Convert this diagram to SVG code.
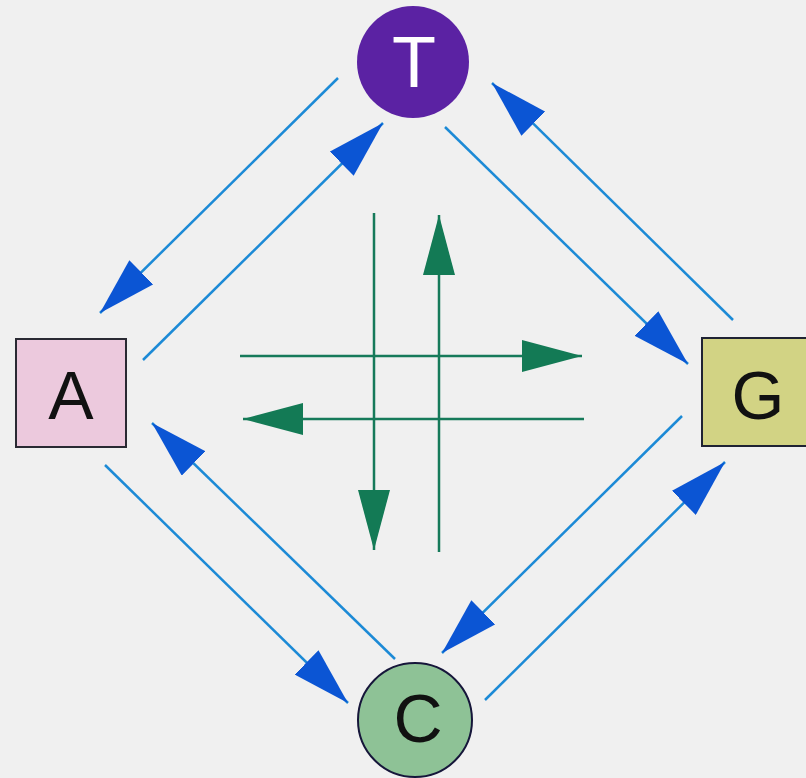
<svg xmlns="http://www.w3.org/2000/svg" width="806" height="778" viewBox="0 0 806 778">
<defs>
<style>
.blue{stroke:#1c8ad6;stroke-width:2.5;fill:none;marker-end:url(#bh)}
.green{stroke:#167a5a;stroke-width:2.5;fill:none;marker-end:url(#gh)}
.lbl{font-family:"Liberation Sans",Arial,sans-serif;font-size:68px;text-anchor:middle;fill:#111}
</style>
<marker id="bh" viewBox="0 0 58 34" markerWidth="58" markerHeight="34" refX="58" refY="17" orient="auto" markerUnits="userSpaceOnUse"><path d="M0,0 L58,17 L0,34 z" fill="#0b55d4"/></marker>
<marker id="gh" viewBox="0 0 60 32" markerWidth="60" markerHeight="32" refX="60" refY="16" orient="auto" markerUnits="userSpaceOnUse"><path d="M0,0 L60,16 L0,32 z" fill="#137a55"/></marker>
</defs>
<rect x="0" y="0" width="806" height="778" fill="#f0f0f0"/>
<g id="connectors">
<line class="blue" x1="338" y1="78" x2="100" y2="313"/>
<line class="blue" x1="143" y1="360" x2="383" y2="123"/>
<line class="blue" x1="445" y1="127" x2="688" y2="364"/>
<line class="blue" x1="733" y1="320" x2="492" y2="83"/>
<line class="blue" x1="105" y1="465" x2="348" y2="703"/>
<line class="blue" x1="395" y1="659" x2="152" y2="423"/>
<line class="blue" x1="682" y1="416" x2="442" y2="653"/>
<line class="blue" x1="485" y1="700" x2="725" y2="462"/>
<line class="green" x1="374" y1="213" x2="374" y2="550"/>
<line class="green" x1="439" y1="552" x2="439" y2="215"/>
<line class="green" x1="240" y1="356" x2="582" y2="356"/>
<line class="green" x1="584" y1="419" x2="243" y2="419"/>
</g>
<g id="T">
<circle cx="413" cy="62" r="56" fill="#5b22a3"/>
<text class="lbl" x="414" y="87" font-size="72" style="fill:#fff;font-size:72px">T</text>
</g>
<g id="A">
<rect x="16" y="339" width="110" height="108" fill="#ecc9dd" stroke="#2a2a33" stroke-width="2"/>
<text class="lbl" x="71" y="419">A</text>
</g>
<g id="G">
<rect x="702" y="338" width="108" height="108" fill="#d2d384" stroke="#1f2333" stroke-width="2"/>
<text class="lbl" x="758" y="419">G</text>
</g>
<g id="C">
<circle cx="415" cy="720" r="57" fill="#8ec296" stroke="#16163a" stroke-width="2"/>
<text class="lbl" x="418" y="742">C</text>
</g>
</svg>
